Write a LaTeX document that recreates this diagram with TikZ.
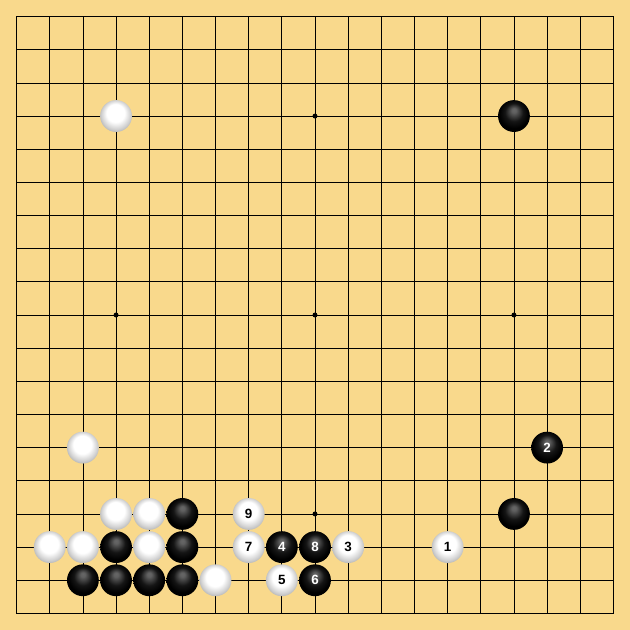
\documentclass[tikz,border=0pt]{standalone}
\usepackage{fontspec}
\setsansfont{Liberation Sans}
\definecolor{boardwood}{RGB}{249,217,140}
\pgfdeclareradialshading{whiteball}{\pgfpoint{-0.05cm}{0.3cm}}{%
  color(0cm)=(white);color(0.5cm)=(white);color(0.8cm)=(black!18);color(1.1cm)=(black!40)}
\pgfdeclareradialshading{blackball}{\pgfpoint{0cm}{0.35cm}}{%
  color(0cm)=(black!60);color(0.12cm)=(black!62);color(0.5cm)=(black!92);color(0.8cm)=(black);color(1.2cm)=(black)}
\begin{document}
\begin{tikzpicture}[x=1cm,y=1cm,
  stone/.style={circle,minimum size=0.96cm,inner sep=0pt,font=\sffamily\bfseries\fontsize{11.5}{11.5}\selectfont},
  blackstone/.style={stone,shading=blackball,text=white},
  whitestone/.style={stone,shading=whiteball,text=black},
  starpoint/.style={circle,fill=black,inner sep=0pt,minimum size=0.15cm}]
  \fill[boardwood] (-0.5,-0.5) rectangle (18.5,18.5);
  \foreach \i in {1,...,17} {
    \draw[line width=0.6pt] (\i,0) -- (\i,18);
    \draw[line width=0.6pt] (0,\i) -- (18,\i);
  }
  \draw[line width=0.9pt] (0,0) rectangle (18,18);
  \foreach \x in {3,9,15}
    \foreach \y in {3,9,15}
      \node[starpoint] (star-\x-\y) at (\x,\y) {};
  % stones already on the board
  \foreach \x/\y [count=\n] in {3/15,2/5,3/3,4/3,1/2,2/2,4/2,6/1}
    \node[whitestone] (w\n) at (\x,\y) {};
  \foreach \x/\y [count=\n] in {15/15,15/3,5/3,3/2,5/2,2/1,3/1,4/1,5/1}
    \node[blackstone] (b\n) at (\x,\y) {};
  % numbered moves
  \node[whitestone] (m1) at (13,2) {1};
  \node[blackstone] (m2) at (16,5) {2};
  \node[whitestone] (m3) at (10,2) {3};
  \node[blackstone] (m4) at (8,2) {4};
  \node[whitestone] (m5) at (8,1) {5};
  \node[blackstone] (m6) at (9,1) {6};
  \node[whitestone] (m7) at (7,2) {7};
  \node[blackstone] (m8) at (9,2) {8};
  \node[whitestone] (m9) at (7,3) {9};
\end{tikzpicture}
\end{document}
